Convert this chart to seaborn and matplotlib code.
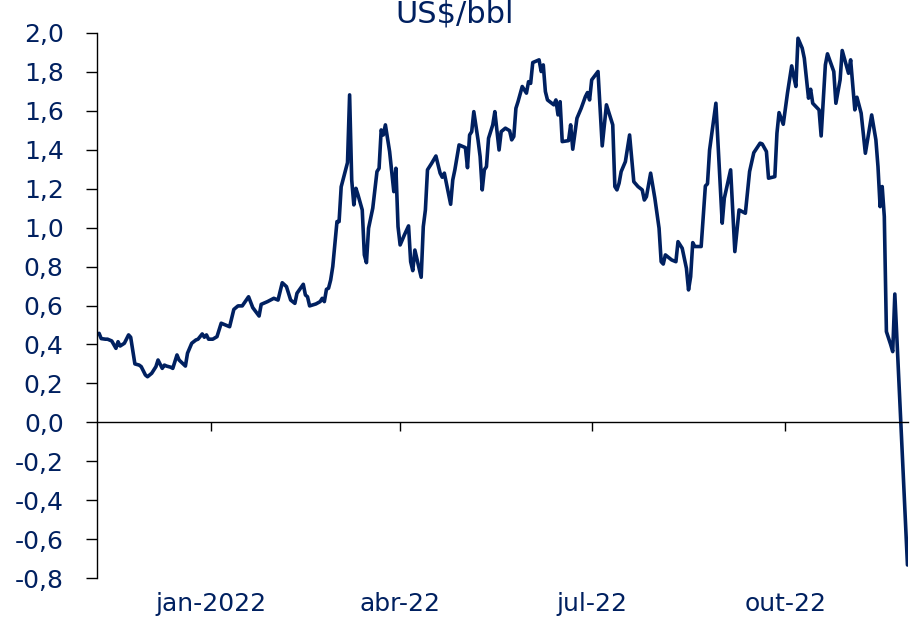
import pandas as pd
import matplotlib.pyplot as plt
import matplotlib.ticker as mticker
import seaborn as sns

# Série diária (US$/bbl)
datas = [
    '2021-11-09', '2021-11-10', '2021-11-12', '2021-11-13', '2021-11-15', '2021-11-17',
    '2021-11-18', '2021-11-19', '2021-11-21', '2021-11-23', '2021-11-24', '2021-11-26',
    '2021-11-28', '2021-11-29', '2021-12-01', '2021-12-02', '2021-12-04', '2021-12-06',
    '2021-12-07', '2021-12-09', '2021-12-10', '2021-12-11', '2021-12-13', '2021-12-14',
    '2021-12-16', '2021-12-17', '2021-12-20', '2021-12-21', '2021-12-23', '2021-12-25',
    '2021-12-26', '2021-12-28', '2021-12-29', '2021-12-30', '2021-12-31', '2022-01-02',
    '2022-01-04', '2022-01-06', '2022-01-08', '2022-01-10', '2022-01-12', '2022-01-14',
    '2022-01-16', '2022-01-19', '2022-01-21', '2022-01-24', '2022-01-25', '2022-01-28',
    '2022-01-31', '2022-02-02', '2022-02-04', '2022-02-06', '2022-02-08', '2022-02-10',
    '2022-02-11', '2022-02-14', '2022-02-15', '2022-02-16', '2022-02-17', '2022-02-20',
    '2022-02-22', '2022-02-23', '2022-02-24', '2022-02-25', '2022-02-26', '2022-02-27',
    '2022-02-28', '2022-03-02', '2022-03-03', '2022-03-04', '2022-03-07', '2022-03-08',
    '2022-03-09', '2022-03-10', '2022-03-11', '2022-03-12', '2022-03-14', '2022-03-15',
    '2022-03-16', '2022-03-17', '2022-03-19', '2022-03-21', '2022-03-22', '2022-03-23',
    '2022-03-24', '2022-03-25', '2022-03-27', '2022-03-29', '2022-03-30', '2022-03-31',
    '2022-04-01', '2022-04-03', '2022-04-05', '2022-04-06', '2022-04-07', '2022-04-08',
    '2022-04-10', '2022-04-11', '2022-04-12', '2022-04-13', '2022-04-14', '2022-04-16',
    '2022-04-18', '2022-04-20', '2022-04-21', '2022-04-22', '2022-04-25', '2022-04-26',
    '2022-04-27', '2022-04-29', '2022-05-01', '2022-05-02', '2022-05-03', '2022-05-04',
    '2022-05-05', '2022-05-06', '2022-05-08', '2022-05-09', '2022-05-10', '2022-05-11',
    '2022-05-12', '2022-05-13', '2022-05-15', '2022-05-16', '2022-05-18', '2022-05-19',
    '2022-05-21', '2022-05-23', '2022-05-24', '2022-05-25', '2022-05-26', '2022-05-27',
    '2022-05-29', '2022-05-31', '2022-06-01', '2022-06-02', '2022-06-03', '2022-06-06',
    '2022-06-07', '2022-06-08', '2022-06-09', '2022-06-10', '2022-06-12', '2022-06-13',
    '2022-06-14', '2022-06-15', '2022-06-16', '2022-06-17', '2022-06-20', '2022-06-21',
    '2022-06-22', '2022-06-24', '2022-06-26', '2022-06-28', '2022-06-29', '2022-06-30',
    '2022-07-01', '2022-07-04', '2022-07-06', '2022-07-08', '2022-07-11', '2022-07-12',
    '2022-07-13', '2022-07-14', '2022-07-15', '2022-07-17', '2022-07-19', '2022-07-21',
    '2022-07-23', '2022-07-25', '2022-07-26', '2022-07-27', '2022-07-29', '2022-07-31',
    '2022-08-02', '2022-08-03', '2022-08-04', '2022-08-05', '2022-08-08', '2022-08-10',
    '2022-08-11', '2022-08-13', '2022-08-15', '2022-08-16', '2022-08-17', '2022-08-18',
    '2022-08-19', '2022-08-22', '2022-08-24', '2022-08-25', '2022-08-26', '2022-08-29',
    '2022-09-01', '2022-09-02', '2022-09-05', '2022-09-07', '2022-09-09', '2022-09-12',
    '2022-09-14', '2022-09-16', '2022-09-19', '2022-09-20', '2022-09-22', '2022-09-23',
    '2022-09-26', '2022-09-27', '2022-09-28', '2022-09-30', '2022-10-02', '2022-10-04',
    '2022-10-05', '2022-10-06', '2022-10-07', '2022-10-09', '2022-10-10', '2022-10-12',
    '2022-10-13', '2022-10-14', '2022-10-17', '2022-10-18', '2022-10-20', '2022-10-21',
    '2022-10-24', '2022-10-25', '2022-10-27', '2022-10-28', '2022-10-31', '2022-11-01',
    '2022-11-03', '2022-11-04', '2022-11-06', '2022-11-08', '2022-11-11', '2022-11-13',
    '2022-11-14', '2022-11-15', '2022-11-16', '2022-11-17', '2022-11-18', '2022-11-20',
    '2022-11-21', '2022-11-22', '2022-11-28',
]
valores = [
    0.457, 0.430, 0.427, 0.427, 0.418, 0.380,
    0.414, 0.392, 0.406, 0.449, 0.437, 0.300,
    0.294, 0.286, 0.243, 0.234, 0.252, 0.286,
    0.320, 0.277, 0.294, 0.289, 0.283, 0.277,
    0.346, 0.320, 0.289, 0.355, 0.406, 0.423,
    0.427, 0.454, 0.437, 0.449, 0.427, 0.427,
    0.440, 0.509, 0.500, 0.491, 0.580, 0.598,
    0.598, 0.645, 0.589, 0.546, 0.606, 0.620,
    0.637, 0.628, 0.717, 0.697, 0.628, 0.611,
    0.663, 0.709, 0.654, 0.645, 0.598, 0.608,
    0.620, 0.637, 0.620, 0.683, 0.689, 0.731,
    0.800, 1.031, 1.031, 1.210, 1.334, 1.682,
    1.245, 1.117, 1.202, 1.168, 1.091, 0.860,
    0.820, 0.997, 1.100, 1.288, 1.305, 1.502,
    1.476, 1.528, 1.391, 1.185, 1.305, 1.005,
    0.911, 0.962, 1.009, 0.825, 0.779, 0.885,
    0.791, 0.745, 1.005, 1.091, 1.297, 1.331,
    1.368, 1.280, 1.259, 1.280, 1.120, 1.245,
    1.297, 1.425, 1.416, 1.411, 1.308, 1.476,
    1.493, 1.596, 1.451, 1.365, 1.194, 1.297,
    1.313, 1.459, 1.528, 1.596, 1.399, 1.493,
    1.511, 1.498, 1.451, 1.468, 1.613, 1.647,
    1.725, 1.691, 1.750, 1.741, 1.848, 1.862,
    1.802, 1.836, 1.699, 1.656, 1.639, 1.631,
    1.656, 1.579, 1.647, 1.442, 1.447, 1.528,
    1.403, 1.562, 1.613, 1.673, 1.694, 1.656,
    1.759, 1.802, 1.420, 1.631, 1.528, 1.211,
    1.194, 1.228, 1.288, 1.339, 1.476, 1.236,
    1.211, 1.194, 1.142, 1.159, 1.280, 1.151,
    0.997, 0.825, 0.813, 0.860, 0.834, 0.825,
    0.928, 0.894, 0.791, 0.680, 0.748, 0.923,
    0.903, 0.903, 1.214, 1.225, 1.399, 1.639,
    1.023, 1.151, 1.297, 0.877, 1.091, 1.074,
    1.288, 1.385, 1.434, 1.430, 1.391, 1.254,
    1.262, 1.485, 1.591, 1.531, 1.691, 1.831,
    1.776, 1.725, 1.973, 1.922, 1.870, 1.665,
    1.711, 1.639, 1.605, 1.471, 1.836, 1.893,
    1.802, 1.639, 1.759, 1.910, 1.793, 1.862,
    1.605, 1.670, 1.588, 1.382, 1.579, 1.451,
    1.313, 1.108, 1.211, 1.057, 0.466, 0.400,
    0.363, 0.659, -0.733,
]
rotulos_x = ['jan-2022', 'abr-22', 'jul-22', 'out-22']
datas_x = ['2022-01-01', '2022-04-01', '2022-07-01', '2022-10-01']

df = pd.DataFrame({'data': pd.to_datetime(datas), 'valor': valores})

azul = '#002060'
sns.set_theme(style='white')
plt.rcParams['font.family'] = ['DejaVu Sans']

fig = plt.figure(figsize=(9.22, 6.2), dpi=100)
ax = fig.add_axes([0.1052, 0.0677, 0.8796, 0.8791])

sns.lineplot(data=df, x='data', y='valor', color=azul, linewidth=2.6,
             estimator=None, ax=ax)

ax.set_xlim(pd.Timestamp('2021-11-08'), pd.Timestamp('2022-11-28 06:00'))
ax.set_ylim(-0.8, 2.0)
ax.set_yticks([round(-0.8 + 0.2 * i, 1) for i in range(15)])
ax.yaxis.set_major_formatter(mticker.FuncFormatter(lambda v, p: f'{v:.1f}'.replace('.', ',')))
ax.set_xticks(pd.to_datetime(datas_x))
ax.set_xticklabels(rotulos_x)

for s in ['top', 'right']:
    ax.spines[s].set_visible(False)
ax.spines['bottom'].set_position(('data', 0))
for s in ['left', 'bottom']:
    ax.spines[s].set_color('black')
    ax.spines[s].set_linewidth(1.0)

ax.tick_params(axis='y', direction='out', length=8, width=1.0, color='black',
               pad=16, labelsize=18, labelcolor=azul, left=True)
ax.tick_params(axis='x', direction='out', length=6.5, width=1.0, color='black',
               pad=116, labelsize=18, labelcolor=azul, bottom=True)
ax.set_xlabel('')
ax.set_ylabel('')
ax.grid(False)

fig.text(0.493, 0.963, 'US$/bbl', ha='center', va='baseline', fontsize=22, color=azul)

plt.savefig('out.png', dpi=100)
plt.close()
